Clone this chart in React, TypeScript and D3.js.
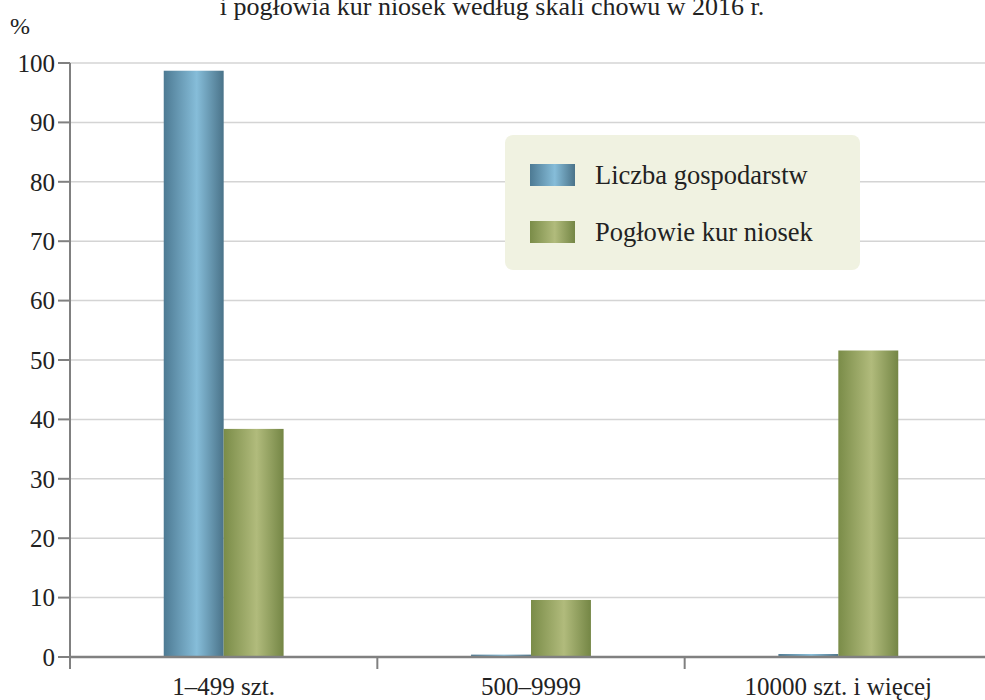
import React from "react";
import * as d3 from "d3";

const title = "i pogłowia kur niosek według skali chowu w 2016 r.";
const categories = ["1–499 szt.", "500–9999", "10000 szt. i więcej"];
const seriesNames = ["Liczba gospodarstw", "Pogłowie kur niosek"];
const farmsShare = [98.7, 0.4, 0.5];
const hensShare = [38.4, 9.6, 51.6];
const yTicks = [0, 10, 20, 30, 40, 50, 60, 70, 80, 90, 100];

const W = 985;
const H = 700;
const left = 70;
const bandEnd = 992;
const right = 985;
const top = 63;
const bottom = 657;
const FONT = '"Liberation Serif", "DejaVu Serif", serif';
const txt = { fontFamily: FONT };

export default function App() {
  const y = d3.scaleLinear().domain([0, 100]).range([bottom, top]);
  const x = d3
    .scaleBand<string>()
    .domain(categories)
    .range([left, bandEnd])
    .paddingInner(0.61)
    .paddingOuter(0.305);
  const xs = d3.scaleBand<string>().domain(seriesNames).range([0, x.bandwidth()]);
  const step = x.step();
  const values = [farmsShare, hensShare];
  const gradIds = ["gBlue", "gGreen"];
  const boundaries = d3.range(categories.length).map((i) => left + i * step);

  return (
    <svg
      width={W}
      height={H}
      style={{ position: "absolute", left: 0, top: 0, background: "#fff" }}
    >
      <defs>
        <linearGradient id="gBlue" x1="0" x2="1" y1="0" y2="0">
          <stop offset="0" stopColor="#4d7a93" />
          <stop offset="0.55" stopColor="#86bdd9" />
          <stop offset="1" stopColor="#4a7389" />
        </linearGradient>
        <linearGradient id="gGreen" x1="0" x2="1" y1="0" y2="0">
          <stop offset="0" stopColor="#7a8c48" />
          <stop offset="0.55" stopColor="#b1bb7c" />
          <stop offset="1" stopColor="#748645" />
        </linearGradient>
      </defs>

      <text x={492} y={15} textAnchor="middle" fontSize={26} fill="#222" style={txt}>
        {title}
      </text>
      <text x={20} y={34} textAnchor="middle" fontSize={24} fill="#222" style={txt}>
        %
      </text>

      {yTicks.map((t) =>
        t === 0 ? null : (
          <line key={"g" + t} x1={left} x2={right} y1={y(t)} y2={y(t)} stroke="#d4d4d4" strokeWidth={1.5} />
        )
      )}

      {categories.map((c, ci) =>
        seriesNames.map((s, si) => {
          const v = values[si][ci];
          const bx = (x(c) as number) + (xs(s) as number);
          return (
            <rect
              key={c + s}
              x={bx}
              y={y(v)}
              width={xs.bandwidth()}
              height={y(0) - y(v)}
              fill={`url(#${gradIds[si]})`}
            />
          );
        })
      )}

      <line x1={left} x2={left} y1={top} y2={bottom + 12} stroke="#808080" strokeWidth={2} />
      <line x1={left} x2={right} y1={bottom} y2={bottom} stroke="#808080" strokeWidth={2.5} />
      {yTicks.map((t) => (
        <g key={"t" + t}>
          <line x1={left - 12} x2={left} y1={y(t)} y2={y(t)} stroke="#808080" strokeWidth={2} />
          <text x={55} y={y(t)} dy="0.35em" textAnchor="end" fontSize={25} fill="#222" style={txt}>
            {t}
          </text>
        </g>
      ))}
      {boundaries.slice(1).map((b, i) => (
        <line key={"b" + i} x1={b} x2={b} y1={bottom} y2={bottom + 12} stroke="#808080" strokeWidth={2} />
      ))}
      {categories.map((c) => (
        <text
          key={"l" + c}
          x={(x(c) as number) + x.bandwidth() / 2}
          y={695}
          textAnchor="middle"
          fontSize={25}
          fill="#222"
          style={txt}
        >
          {c}
        </text>
      ))}

      <rect x={505} y={135} width={355} height={135} rx={8} fill="#f0f2e1" />
      {seriesNames.map((s, i) => (
        <g key={"lg" + s}>
          <rect x={530} y={164 + i * 57} width={45} height={22} fill={`url(#${gradIds[i]})`} />
          <text x={595} y={175 + i * 57} dy="0.35em" fontSize={26.5} fill="#222" style={txt}>
            {s}
          </text>
        </g>
      ))}
    </svg>
  );
}
